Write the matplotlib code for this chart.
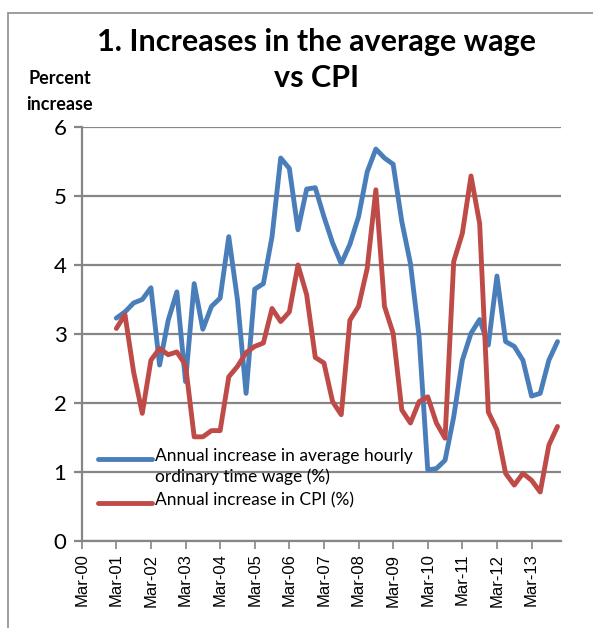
import matplotlib
matplotlib.use("Agg")
import numpy as np
import matplotlib.pyplot as plt
from matplotlib.patches import Rectangle

# Quarterly series, Mar-01 to Dec-13 (annual % change)
wage = [3.23, 3.32, 3.45, 3.50, 3.67, 2.55, 3.20, 3.61, 2.31, 3.73,
        3.07, 3.40, 3.52, 4.41, 3.50, 2.14, 3.65, 3.73, 4.41, 5.55,
        5.40, 4.51, 5.10, 5.12, 4.70, 4.32, 4.02, 4.30, 4.70, 5.35,
        5.68, 5.55, 5.46, 4.63, 4.02, 2.96, 1.03, 1.05, 1.17, 1.80,
        2.62, 3.01, 3.21, 2.84, 3.84, 2.89, 2.82, 2.62, 2.10, 2.14,
        2.62, 2.89]
cpi = [3.08, 3.28, 2.45, 1.85, 2.62, 2.79, 2.70, 2.74, 2.55, 1.51,
       1.51, 1.60, 1.60, 2.38, 2.53, 2.73, 2.82, 2.87, 3.37, 3.18,
       3.32, 4.00, 3.57, 2.66, 2.58, 2.02, 1.83, 3.20, 3.40, 3.95,
       5.09, 3.40, 3.01, 1.90, 1.71, 2.02, 2.09, 1.71, 1.49, 4.05,
       4.46, 5.29, 4.60, 1.87, 1.61, 0.98, 0.81, 0.98, 0.88, 0.71,
       1.39, 1.66]
year_labels = ["Mar-%02d" % y for y in range(0, 14)]

wage_label = "Annual increase in average hourly\nordinary time wage (%)"
cpi_label = "Annual increase in CPI (%)"

BLUE = "#4A7EBB"
RED = "#BE4B48"
GRID = "#868686"
LW = 3.5

# quarters since Mar-00; first observation is Mar-01
q = np.arange(4, 4 + len(wage))

fig = plt.figure(figsize=(5.93, 6.28), dpi=100)
ax = fig.add_axes([0.1378, 0.1385, 0.946 - 0.1378, 0.7978 - 0.1385])

# chart-area frame
fig.patches.append(Rectangle((8 / 593, -0.1), 1.2, 1 - 13 / 628 + 0.1,
                             transform=fig.transFigure, fill=False,
                             edgecolor="#8c8c8c", linewidth=1.2))

ax.plot(q, wage, color=BLUE, lw=LW, solid_joinstyle="round",
        solid_capstyle="round")
ax.plot(q, cpi, color=RED, lw=LW, solid_joinstyle="round",
        solid_capstyle="round")

ax.set_xlim(0, 55.4)
ax.set_ylim(0, 6)
ax.set_yticks(range(0, 7))
ax.set_xticks(np.arange(0, 4 * len(year_labels), 4))
ax.set_xticklabels(year_labels, rotation=90, family="Liberation Sans",
                   fontsize=12)
for t in ax.get_yticklabels():
    t.set_family("Lato")
    t.set_fontsize(16)

ax.yaxis.grid(True, color=GRID, lw=1.6)
ax.set_axisbelow(True)
for s in ["top", "right"]:
    ax.spines[s].set_visible(False)
ax.spines["left"].set_color(GRID)
ax.spines["left"].set_linewidth(1.6)
ax.spines["bottom"].set_color(GRID)
ax.spines["bottom"].set_linewidth(1.6)
ax.tick_params(axis="y", length=6, width=1.6, color=GRID, pad=5)
ax.tick_params(axis="x", length=6, width=1.2, color=GRID, pad=3)

# legend drawn by hand so each key sits on the first line of its label
legend_items = [(wage_label, BLUE, 0.198), (cpi_label, RED, 0.092)]
for label, color, y in legend_items:
    ax.plot([0.033, 0.146], [y, y], transform=ax.transAxes, color=color,
            lw=LW, solid_capstyle="round", clip_on=False)
    ax.text(0.152, y + 0.026, label, transform=ax.transAxes, ha="left",
            va="top", family="Lato", fontsize=12.5, linespacing=1.3)

fig.text(0.534, 0.933, "1. Increases in the average wage", ha="center",
         va="center", family="Lato", weight="bold", fontsize=22)
fig.text(0.534, 0.876, "vs CPI", ha="center", va="center",
         family="Lato", weight="bold", fontsize=22)
fig.text(0.101, 0.855, "Percent\nincrease", ha="center", va="center",
         family="Lato", weight="bold", fontsize=13, linespacing=1.65)

fig.savefig("out.png", dpi=100)
